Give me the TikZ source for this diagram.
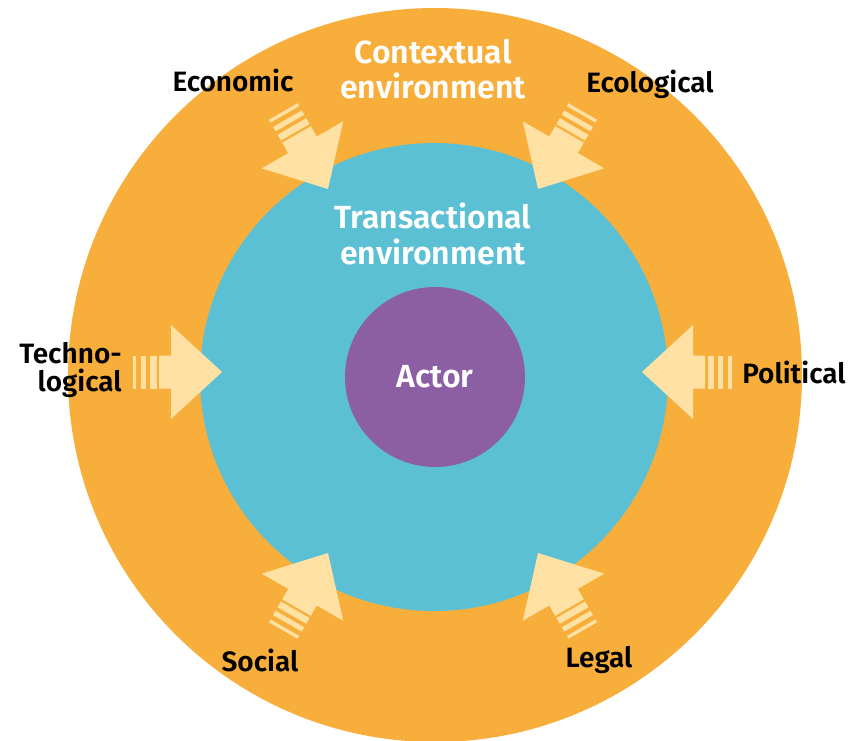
\documentclass[tikz,border=0pt]{standalone}
\usepackage{fontspec}
\setmainfont{Fira Sans}[BoldFont={Fira Sans SemiBold}]
\definecolor{outerc}{HTML}{F8AE3A}
\definecolor{innerc}{HTML}{5BC0D4}
\definecolor{actorc}{HTML}{8C5EA3}
\definecolor{arrowc}{HTML}{FFE1A4}
\tikzset{
  inarrow/.pic={
    \fill[arrowc] (0,0) -- (-51,47) -- (-51,16.5) -- (-63,16.5) -- (-63,-16.5) -- (-51,-16.5) -- (-51,-47) -- cycle;
    \fill[arrowc] (-65.5,16.5) rectangle (-72.2,-16.5);
    \fill[arrowc] (-76.2,16.5) rectangle (-81.2,-16.5);
    \fill[arrowc] (-86.2,16.5) rectangle (-89.5,-16.5);
  },
  lbl/.style={font=\bfseries\fontsize{21}{21}\selectfont, text=black, inner sep=0pt},
  big/.style={font=\bfseries\fontsize{24}{26.5}\selectfont, text=white, inner sep=0pt, align=center},
}
\begin{document}
\begin{tikzpicture}[x=0.75pt,y=-0.75pt]
\useasboundingbox (0,0) rectangle (848,740);
\clip (0,0) rectangle (848,740);
\fill[white] (0,0) rectangle (848,740);
\fill[outerc] (435,375) circle (367);
\fill[innerc] (434,377) circle (234);
\fill[actorc] (435,377) circle (90);
\pic[rotate=-60] at (328,189) {inarrow};
\pic[rotate=-120] at (538,189) {inarrow};
\pic[rotate=0] at (222,372) {inarrow};
\pic[rotate=180] at (642,372) {inarrow};
\pic[rotate=60] at (328,553) {inarrow};
\pic[rotate=120] at (538,553) {inarrow};
\node[big] (ctx) at (433,69) {Contextual\\environment};
\node[big] (trx) at (433,234) {Transactional\\environment};
\node[big] (actor) at (435,377) {Actor};
\node[lbl] (eco) at (233,80) {Economic};
\node[lbl] (ecol) at (650,84) {Ecological};
\node[lbl, align=right, anchor=east] (tech) at (122,370) {Techno-\\logical};
\node[lbl] (pol) at (794,372) {Political};
\node[lbl] (soc) at (260,660) {Social};
\node[lbl] (leg) at (599,660) {Legal};
\end{tikzpicture}
\end{document}
